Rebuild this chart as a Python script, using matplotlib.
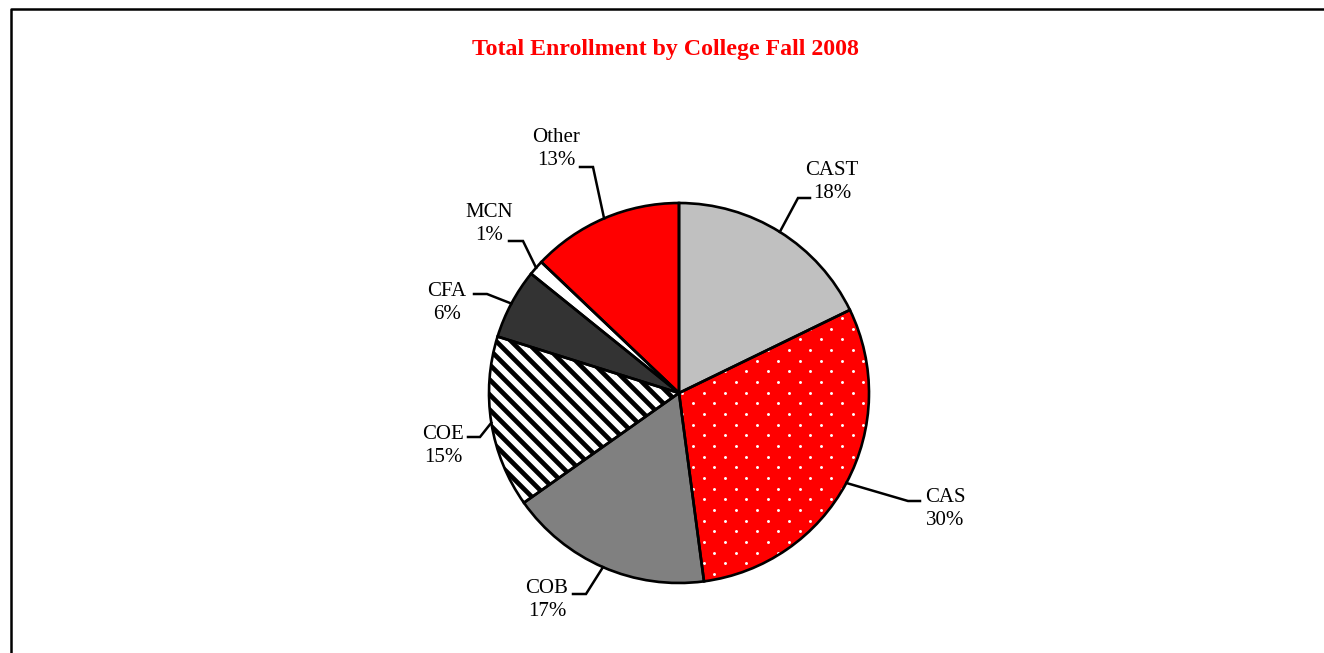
import numpy as np
import matplotlib
matplotlib.use("Agg")
import matplotlib.pyplot as plt
from matplotlib.collections import LineCollection

plt.rcParams["font.family"] = ["Liberation Serif", "DejaVu Serif"]

# data (share of total enrollment, %)
colleges = ["CAST", "CAS", "COB", "COE", "CFA", "MCN", "Other"]
shares = [17.8, 30.1, 17.3, 14.6, 6.0, 1.3, 12.9]
pct_labels = ["18%", "30%", "17%", "15%", "6%", "1%", "13%"]
colors = ["#C0C0C0", "#FF0000", "#808080", "#FFFFFF", "#333333", "#FFFFFF", "#FF0000"]

# label layout in pixel coords: text centre, elbow, end of horizontal tick
text_pos = [(832, 182), (945, 509), (547, 600), (443, 446), (447, 303), (489, 224), (556, 149)]
elbow_pos = [(798, 198), (908, 501), (586, 594), (480, 437), (487, 294), (523, 241), (593, 167)]
end_x = [810, 920, 573, 468, 474, 509, 580]

W, H = 1324, 653
CX, CY, R = 679, 393, 190

fig = plt.figure(figsize=(W / 100, H / 100), dpi=100)
ax = fig.add_axes([0, 0, 1, 1])

# y axis is inverted (pixel coords), so counterclock=True runs clockwise on screen
wedges, _ = ax.pie(shares, colors=colors, center=(CX, CY), radius=R,
                   startangle=-90, counterclock=True,
                   wedgeprops=dict(edgecolor="none", linewidth=0))

# white dot texture on CAS
gx, gy = np.meshgrid(np.arange(480, 900, 21.3), np.arange(190, 600, 10.67))
gx = gx + (np.arange(gx.shape[0])[:, None] % 2) * 10.65
dots = ax.scatter(gx.ravel(), gy.ravel(), s=4.5, color="white", linewidths=0, zorder=2)
dots.set_clip_path(wedges[1])

# diagonal black stripes on COE
segs = [[(x0, 100), (x0 + 600, 700)] for x0 in np.arange(-300, 800, 15)]
stripes = LineCollection(segs, colors="black", linewidths=3.4, zorder=2)
ax.add_collection(stripes)
stripes.set_clip_path(wedges[3])

# outlines on top
ax.pie(shares, colors=["none"] * len(shares), center=(CX, CY), radius=R,
       startangle=-90, counterclock=True,
       wedgeprops=dict(edgecolor="black", linewidth=1.9, zorder=3))

# labels with leader lines from the middle of each wedge's arc
for w, name, pct, tp, ep, ex in zip(wedges, colleges, pct_labels, text_pos, elbow_pos, end_x):
    mid = np.deg2rad((w.theta1 + w.theta2) / 2)
    px, py = CX + R * np.cos(mid), CY + R * np.sin(mid)
    ax.plot([px, ep[0], ex], [py, ep[1], ep[1]], color="black", lw=1.8, zorder=4,
            solid_joinstyle="miter")
    ax.text(tp[0], tp[1], f"{name}\n{pct}", ha="center", va="center",
            fontsize=15, linespacing=1.3, color="black")

ax.set_xlim(0, W)
ax.set_ylim(H, 0)
ax.set_aspect("auto")
ax.axis("off")

ax.text(665, 50, "Total Enrollment by College Fall 2008", ha="center", va="center",
        fontsize=17.2, fontweight="bold", color="#FF0000")

# chart frame (cut off at right and bottom)
ax.plot([10.5, 10.5, W + 20], [H + 20, 8.7, 8.7], color="black", lw=1.8, clip_on=False)

fig.savefig("out.png", dpi=100)
